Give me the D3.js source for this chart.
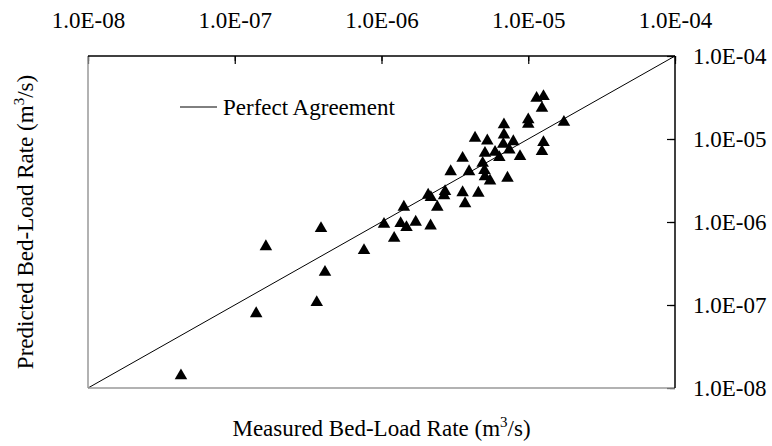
<!DOCTYPE html>
<html>
<head>
<meta charset="utf-8">
<script src="https://cdn.jsdelivr.net/npm/d3@7"></script>
<style>
	body { margin: 0; background: #fff; }
	text { font-family: "Liberation Serif", "Times New Roman", serif; fill: #000; }
</style>
</head>
<body>
<div id="graph1"></div>
<script>
// measured vs predicted bed-load rate (m3/s)
const measured = [
	4.30e-8, 1.40e-7, 1.63e-7, 3.62e-7, 3.87e-7, 4.12e-7, 7.60e-7, 1.04e-6,
	1.22e-6, 1.35e-6, 1.48e-6, 1.71e-6, 2.16e-6, 1.42e-6, 2.40e-6, 2.08e-6,
	2.17e-6, 2.71e-6, 2.67e-6, 3.57e-6, 4.57e-6, 3.71e-6, 2.96e-6, 3.95e-6,
	5.03e-6, 5.07e-6, 5.49e-6, 7.22e-6, 3.57e-6, 4.89e-6, 5.07e-6, 5.94e-6,
	6.35e-6, 8.79e-6, 4.34e-6, 5.26e-6, 6.76e-6, 7.43e-6, 7.91e-6, 6.83e-6,
	6.83e-6, 1.00e-5, 1.00e-5, 1.14e-5, 1.27e-5, 1.24e-5, 1.27e-5, 1.24e-5,
	1.75e-5
];
const predicted = [
	1.47e-8, 8.23e-8, 5.28e-7, 1.12e-7, 8.71e-7, 2.59e-7, 4.73e-7, 9.81e-7,
	6.65e-7, 1.00e-6, 8.95e-7, 1.04e-6, 9.38e-7, 1.58e-6, 1.58e-6, 2.20e-6,
	2.06e-6, 2.43e-6, 2.17e-6, 2.36e-6, 2.33e-6, 1.74e-6, 4.23e-6, 4.23e-6,
	4.35e-6, 3.68e-6, 3.27e-6, 3.53e-6, 6.12e-6, 5.33e-6, 7.03e-6, 7.23e-6,
	6.24e-6, 6.42e-6, 1.07e-5, 9.92e-6, 9.03e-6, 7.73e-6, 9.72e-6, 1.55e-5,
	1.17e-5, 1.78e-5, 1.57e-5, 3.23e-5, 3.39e-5, 2.45e-5, 9.46e-6, 7.37e-6,
	1.66e-5
];
const decades = [1e-8, 1e-7, 1e-6, 1e-5, 1e-4];
const tickLabels = ["1.0E-08", "1.0E-07", "1.0E-06", "1.0E-05", "1.0E-04"];
const perfect = [[1e-8, 1e-8], [1e-4, 1e-4]];
const legendLabel = "Perfect Agreement";

const width = 772;
const height = 446;
const margin = { top: 56, right: 97, bottom: 58, left: 88 };
const w = width - margin.left - margin.right;
const h = height - margin.top - margin.bottom;

const svg = d3.select("#graph1")
	.append("svg")
		.attr("width", width)
		.attr("height", height);

const bounds = svg.append("g")
	.attr("transform", `translate(${margin.left},${margin.top})`);

const xScale = d3.scaleLog()
	.domain([1e-8, 1e-4])
	.range([0, w]);

const yScale = d3.scaleLog()
	.domain([1e-8, 1e-4])
	.range([h, 0]);

// perfect agreement line
const lineGenerator = d3.line()
	.x(d => xScale(d[0]))
	.y(d => yScale(d[1]));

bounds.append("path")
	.datum(perfect)
	.attr("d", lineGenerator)
	.attr("fill", "none")
	.attr("stroke", "#000")
	.attr("stroke-width", 1);

// minor ticks on top and right, pointing in
const minorTop = bounds.append("g")
	.call(d3.axisTop(xScale).ticks(4).tickSizeInner(-5).tickSizeOuter(0).tickFormat(""));
const minorRight = bounds.append("g")
	.attr("transform", `translate(${w},0)`)
	.call(d3.axisRight(yScale).ticks(4).tickSizeInner(-5).tickSizeOuter(0).tickFormat(""));

// major ticks with labels
const topAxis = bounds.append("g")
	.call(d3.axisTop(xScale)
		.tickValues(decades)
		.tickSizeInner(-8)
		.tickSizeOuter(0)
		.tickPadding(28)
		.tickFormat((d, i) => tickLabels[i]));
const rightAxis = bounds.append("g")
	.attr("transform", `translate(${w},0)`)
	.call(d3.axisRight(yScale)
		.tickValues(decades)
		.tickSizeInner(-8)
		.tickSizeOuter(0)
		.tickPadding(18)
		.tickFormat((d, i) => tickLabels[i]));

bounds.selectAll(".domain").remove();
bounds.selectAll(".tick line").attr("stroke", "#000").attr("stroke-width", 1.2);
bounds.selectAll(".tick text")
	.style("font-family", '"Liberation Serif", "Times New Roman", serif')
	.style("font-size", "23px")
	.attr("fill", "#000");

// frame: left/bottom grey, top/right black
bounds.append("line")
	.attr("x1", 0).attr("x2", 0).attr("y1", 0).attr("y2", h)
	.attr("stroke", "#999").attr("stroke-width", 1.5);
bounds.append("line")
	.attr("x1", 0).attr("x2", w).attr("y1", h).attr("y2", h)
	.attr("stroke", "#999").attr("stroke-width", 1.5);
bounds.append("line")
	.attr("x1", 0).attr("x2", w).attr("y1", 0).attr("y2", 0)
	.attr("stroke", "#000").attr("stroke-width", 1.5);
bounds.append("line")
	.attr("x1", w).attr("x2", w).attr("y1", 0).attr("y2", h)
	.attr("stroke", "#000").attr("stroke-width", 1.5);

// points
const triangle = d3.symbol().type(d3.symbolTriangle).size(68);
bounds.append("g")
	.selectAll("path")
	.data(measured)
	.join("path")
		.attr("d", triangle)
		.attr("transform", (d, i) => `translate(${xScale(d)},${yScale(predicted[i]) + 1.5})`)
		.attr("fill", "#000");

// legend
bounds.append("line")
	.attr("x1", 92).attr("x2", 129)
	.attr("y1", 51).attr("y2", 51)
	.attr("stroke", "#000").attr("stroke-width", 1);
bounds.append("text")
	.attr("x", 135)
	.attr("y", 51)
	.attr("dy", "0.35em")
	.style("font-size", "23px")
	.text(legendLabel);

// axis titles
const xTitle = svg.append("text")
	.attr("x", margin.left + w / 2)
	.attr("y", 436)
	.attr("text-anchor", "middle")
	.style("font-size", "23px");
xTitle.append("tspan").text("Measured Bed-Load Rate (m");
xTitle.append("tspan").attr("dy", -9).style("font-size", "15px").text("3");
xTitle.append("tspan").attr("dy", 9).text("/s)");

const yTitle = svg.append("text")
	.attr("transform", `translate(33,${margin.top + h / 2}) rotate(-90)`)
	.attr("text-anchor", "middle")
	.style("font-size", "23px");
yTitle.append("tspan").text("Predicted Bed-Load Rate (m");
yTitle.append("tspan").attr("dy", -9).style("font-size", "15px").text("3");
yTitle.append("tspan").attr("dy", 9).text("/s)");
</script>
</body>
</html>
